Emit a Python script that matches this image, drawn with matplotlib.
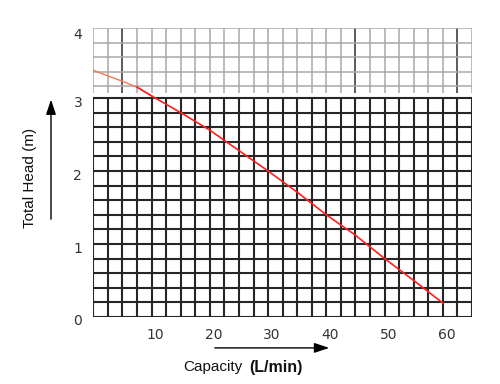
import matplotlib
matplotlib.use("Agg")
import matplotlib.pyplot as plt
import numpy as np
from matplotlib.transforms import ScaledTranslation

# data
capacity = [0, 5, 7.5, 10, 15, 20, 25, 30, 35, 40, 45, 50, 55, 60]
head = [3.38, 3.23, 3.15, 3.03, 2.80, 2.56, 2.28, 2.00, 1.71, 1.40, 1.12, 0.80, 0.50, 0.19]
x_ticks = [10, 20, 30, 40, 50, 60]
y_ticks = [0, 1, 2, 3, 3.93]
y_tick_labels = ["0", "1", "2", "3", "4"]

fig = plt.figure(figsize=(5, 3.84), dpi=100)
fig.patch.set_facecolor("white")
ax = fig.add_axes([0.1866, 0.1745, 0.944 - 0.1866, 0.927 - 0.1745])
ax.set_xlim(0, 65)
ax.set_ylim(0, 3.96)
for s in ax.spines.values():
    s.set_visible(False)

xs = np.arange(0, 65.01, 2.5)
dark = "#262626"
gray = "#a8a8a8"
# lower dark grid
ax.vlines(xs, 0, 3.0, color=dark, lw=1.5, zorder=1)
ax.hlines(np.arange(0, 3.01, 0.2), 0, 65, color=dark, lw=1.5, zorder=1)
# upper gray grid
ax.vlines(xs, 3.07, 3.96, color=gray, lw=1.1, zorder=1)
ax.vlines([5, 45, 62.5], 3.07, 3.96, color="#555555", lw=1.3, zorder=1)
ax.hlines([3.16, 3.36, 3.56, 3.76, 3.96], 0, 65, color=gray, lw=1.1, zorder=1)

cap = np.array(capacity)
hd = np.array(head)
upper = cap <= 10
lower = cap >= 7.5
ax.plot(cap[upper], hd[upper], color="#f07a50", lw=1.0, zorder=3)
ax.plot(cap[lower], hd[lower], color="#ff2020", lw=1.2, zorder=3)

ax.set_xticks(x_ticks)
ax.set_xticklabels([str(v) for v in x_ticks])
ax.set_yticks(y_ticks)
ax.set_yticklabels(y_tick_labels)
ax.tick_params(length=0, labelsize=10, labelcolor="#333333")
ax.tick_params(axis="x", pad=8)
ax.tick_params(axis="y", pad=8)
for lab in ax.get_xticklabels():
    lab.set_transform(lab.get_transform() + ScaledTranslation(4 / 100, 0, fig.dpi_scale_trans))
for lab in ax.get_yticklabels():
    lab.set_transform(lab.get_transform() + ScaledTranslation(0, -3 / 100, fig.dpi_scale_trans))

# arrows
fig.add_artist(matplotlib.patches.FancyArrowPatch((0.102, 0.422), (0.102, 0.748),
               transform=fig.transFigure, arrowstyle="-|>,head_length=6,head_width=2",
               color="black", lw=1.0, mutation_scale=1.5))
fig.add_artist(matplotlib.patches.FancyArrowPatch((0.424, 0.094), (0.664, 0.094),
               transform=fig.transFigure, arrowstyle="-|>,head_length=6,head_width=2",
               color="black", lw=1.0, mutation_scale=1.5))

lab_font = ["Liberation Sans", "DejaVu Sans"]
fig.text(0.06, 0.536, "Total Head (m)", rotation=90, ha="center", va="center",
         fontsize=11, color="#111111", family=lab_font)
fig.text(0.484, 0.044, "Capacity", ha="right", va="center", fontsize=11,
         color="#111111", family=lab_font)
fig.text(0.498, 0.044, "(L/min)", ha="left", va="center", fontsize=11.5,
         fontweight="bold", color="#111111", family=lab_font)

fig.savefig("out.png", dpi=100, facecolor="white")
